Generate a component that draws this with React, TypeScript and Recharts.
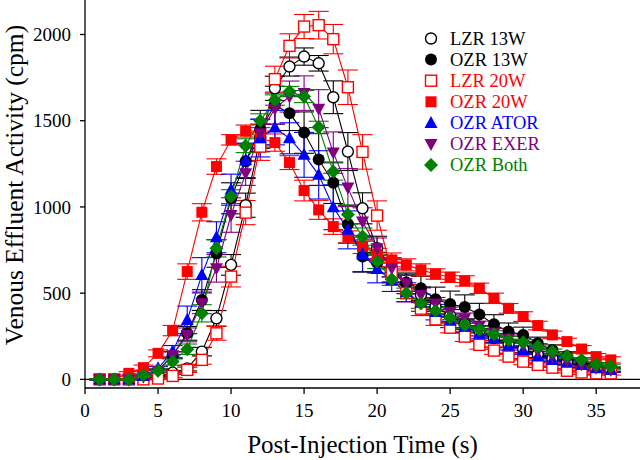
import * as React from "react";
import {ErrorBar, Line, LineChart, ReferenceLine, XAxis, YAxis} from "recharts";

const time = [1, 2, 3, 4, 5, 6, 7, 8, 9, 10, 11, 12, 13, 14, 15, 16, 17, 18, 19, 20, 21, 22, 23, 24, 25, 26, 27, 28, 29, 30, 31, 32, 33, 34, 35, 36];

const lzr13 = [0, 0, 0, 5, 10, 39, 64, 161, 354, 664, 1010, 1400, 1688, 1814, 1872, 1833, 1636, 1321, 992, 760, 650, 560, 490, 420, 370, 320, 280, 240, 205, 175, 145, 120, 100, 80, 62, 50];
const lzr13Err = [3, 3, 3, 5, 8, 10, 15, 25, 45, 60, 70, 80, 70, 55, 50, 45, 95, 110, 90, 70, 55, 50, 45, 40, 35, 30, 28, 25, 22, 20, 18, 15, 14, 12, 10, 10];

const ozr13 = [0, 0, 0, 10, 50, 140, 267, 460, 730, 1050, 1265, 1450, 1590, 1543, 1431, 1275, 1140, 900, 712, 677, 620, 557, 528, 465, 437, 420, 376, 320, 277, 258, 210, 170, 135, 105, 80, 60];
const ozr13Err = [3, 3, 3, 5, 10, 20, 40, 60, 80, 90, 100, 110, 110, 100, 120, 150, 120, 110, 90, 60, 55, 60, 70, 70, 75, 70, 65, 55, 50, 45, 35, 30, 25, 20, 15, 12];

const lzr20 = [0, 0, 0, 0, 5, 20, 55, 113, 267, 596, 967, 1350, 1741, 1934, 2046, 2054, 1973, 1694, 1319, 950, 620, 500, 410, 348, 300, 248, 200, 167, 132, 103, 84, 68, 50, 40, 35, 35];
const lzr20Err = [3, 3, 3, 3, 5, 10, 15, 25, 40, 60, 70, 80, 75, 70, 70, 80, 85, 100, 100, 85, 60, 50, 40, 35, 30, 28, 25, 22, 20, 18, 15, 15, 12, 12, 10, 10];

const ozr20 = [0, 0, 35, 68, 151, 283, 625, 969, 1234, 1389, 1440, 1400, 1373, 1257, 1095, 983, 886, 826, 770, 725, 693, 664, 635, 611, 592, 571, 528, 470, 412, 364, 312, 258, 219, 176, 132, 113];
const ozr20Err = [3, 3, 10, 15, 20, 30, 45, 50, 45, 30, 35, 40, 50, 40, 60, 55, 45, 35, 40, 35, 40, 35, 35, 30, 30, 30, 30, 30, 28, 28, 25, 22, 20, 20, 18, 18];

const ator = [0, 0, 0, 20, 64, 161, 345, 606, 824, 1100, 1270, 1400, 1460, 1398, 1302, 1186, 998, 867, 725, 640, 575, 505, 445, 390, 340, 305, 265, 238, 195, 167, 132, 113, 97, 84, 64, 55];
const atorErr = [3, 3, 3, 5, 10, 35, 80, 100, 90, 90, 100, 110, 100, 90, 130, 140, 130, 110, 100, 80, 65, 55, 50, 45, 40, 35, 30, 28, 25, 22, 20, 18, 15, 15, 12, 12];

const exer = [0, 0, 0, 15, 50, 140, 258, 441, 644, 953, 1195, 1427, 1570, 1640, 1660, 1570, 1315, 1112, 915, 760, 644, 557, 490, 440, 390, 355, 310, 270, 235, 200, 165, 135, 110, 88, 68, 55];
const exerErr = [3, 3, 3, 5, 10, 20, 40, 60, 80, 100, 70, 80, 90, 90, 100, 110, 120, 110, 80, 60, 50, 45, 40, 35, 30, 30, 28, 25, 22, 20, 18, 15, 15, 12, 12, 10];

const both = [0, 0, 0, 25, 50, 103, 175, 383, 760, 1060, 1355, 1500, 1620, 1669, 1640, 1462, 1205, 956, 828, 683, 580, 499, 440, 398, 357, 316, 289, 262, 229, 215, 190, 161, 136, 113, 86, 76];
const bothErr = [3, 3, 3, 8, 10, 20, 30, 50, 50, 40, 40, 40, 30, 30, 35, 35, 50, 55, 50, 40, 35, 30, 28, 25, 25, 22, 20, 20, 20, 18, 18, 15, 15, 12, 12, 12];

const xTicks = [0, 5, 10, 15, 20, 25, 30, 35];
const yTicks = [0, 500, 1000, 1500, 2000];

const FONT = "'Liberation Serif', 'Times New Roman', serif";

const data = time.map((t, i) => ({
    t,
    lzr13: lzr13[i], lzr13Err: lzr13Err[i],
    ozr13: ozr13[i], ozr13Err: ozr13Err[i],
    lzr20: lzr20[i], lzr20Err: lzr20Err[i],
    ozr20: ozr20[i], ozr20Err: ozr20Err[i],
    ator: ator[i], atorErr: atorErr[i],
    exer: exer[i], exerErr: exerErr[i],
    both: both[i], bothErr: bothErr[i],
}));

type Kind = "circleOpen" | "circle" | "squareOpen" | "square" | "triUp" | "triDown" | "diamond";

function Marker({kind, color, cx, cy}: { kind: Kind, color: string, cx: number, cy: number }) {
    switch (kind) {
        case "circleOpen":
            return <circle cx={cx} cy={cy} r={5.5} fill="#fff" stroke={color} strokeWidth={1.4}/>;
        case "circle":
            return <circle cx={cx} cy={cy} r={6} fill={color}/>;
        case "squareOpen":
            return <rect x={cx - 5.5} y={cy - 5.5} width={11} height={11} fill="#fff" stroke={color} strokeWidth={1.4}/>;
        case "square":
            return <rect x={cx - 5.5} y={cy - 5.5} width={11} height={11} fill={color}/>;
        case "triUp":
            return <path d={`M${cx},${cy - 7}L${cx + 6.5},${cy + 5}L${cx - 6.5},${cy + 5}Z`} fill={color}/>;
        case "triDown":
            return <path d={`M${cx},${cy + 7}L${cx + 6.5},${cy - 5}L${cx - 6.5},${cy - 5}Z`} fill={color}/>;
        default:
            return <path d={`M${cx},${cy - 7}L${cx + 7},${cy}L${cx},${cy + 7}L${cx - 7},${cy}Z`} fill={color}/>;
    }
}

const dotFor = (kind: Kind, color: string) => (props: any) => {
    const {cx, cy, index} = props;
    if (cx == null || cy == null) return <g key={index}/>;
    return <g key={index}><Marker kind={kind} color={color} cx={cx} cy={cy}/></g>;
};

const series: { key: string, name: string, kind: Kind, color: string }[] = [
    {key: "lzr13", name: "LZR 13W", kind: "circleOpen", color: "#000000"},
    {key: "ozr13", name: "OZR 13W", kind: "circle", color: "#000000"},
    {key: "lzr20", name: "LZR 20W", kind: "squareOpen", color: "#ff0000"},
    {key: "ozr20", name: "OZR 20W", kind: "square", color: "#ff0000"},
    {key: "ator", name: "OZR ATOR", kind: "triUp", color: "#0000ff"},
    {key: "exer", name: "OZR EXER", kind: "triDown", color: "#800080"},
    {key: "both", name: "OZR Both", kind: "diamond", color: "#008000"},
];

function LegendBox() {
    return (
        <svg width={150} height={150} style={{display: "block"}}>
            {series.map((s, i) => {
                const y = 10.5 + i * 21.1;
                return (
                    <g key={s.key}>
                        <Marker kind={s.kind} color={s.color} cx={8} cy={y}/>
                        <text x={27} y={y + 6} fontSize={18.5} fontFamily={FONT} fill={s.color}>{s.name}</text>
                    </g>
                );
            })}
        </svg>
    );
}

// y title drawn by hand so it can sit a bit above the plot centre like the original
const YTitle = () => (
    <text x={23} y={185} transform="rotate(-90, 23, 185)" textAnchor="middle"
          fontSize={25.5} fontFamily={FONT} fill="#000">Venous Effluent Activity (cpm)</text>
);

export default function App() {
    return (
        <div style={{position: "absolute", left: 0, top: 0, width: 640, height: 460, background: "#fff"}}>
            <LineChart width={640} height={460} data={data} margin={{top: 0, right: 0, bottom: 0, left: 0}}>
                <XAxis dataKey="t" type="number" domain={[0, 38]} ticks={xTicks} interval={0} height={72}
                       stroke="#000" strokeWidth={1.3} tickSize={6} tickMargin={10}
                       tick={{fill: "#000", fontSize: 19, fontFamily: FONT}}
                       label={{value: "Post-Injection Time (s)", position: "insideBottom", offset: 7,
                           style: {fill: "#000", fontSize: 25, fontFamily: FONT}}}/>
                <YAxis type="number" domain={[-50, 2200]} ticks={yTicks} interval={0} width={85}
                       stroke="#000" strokeWidth={1.3} tickSize={5} tickMargin={9}
                       tick={{fill: "#000", fontSize: 19, fontFamily: FONT}}
                       label={() => <YTitle/>}/>
                <ReferenceLine y={0} stroke="#000" strokeWidth={1.3}/>
                {series.map(s => (
                    <Line key={s.key} dataKey={s.key} name={s.name} stroke={s.color} strokeWidth={1.1}
                          isAnimationActive={false} dot={dotFor(s.kind, s.color)} activeDot={false}>
                        <ErrorBar dataKey={s.key + "Err"} width={10} stroke={s.color} strokeWidth={1.1}
                                  direction="y" isAnimationActive={false}/>
                    </Line>
                ))}
            </LineChart>
            <div style={{position: "absolute", left: 423, top: 28}}>
                <LegendBox/>
            </div>
        </div>
    );
}
